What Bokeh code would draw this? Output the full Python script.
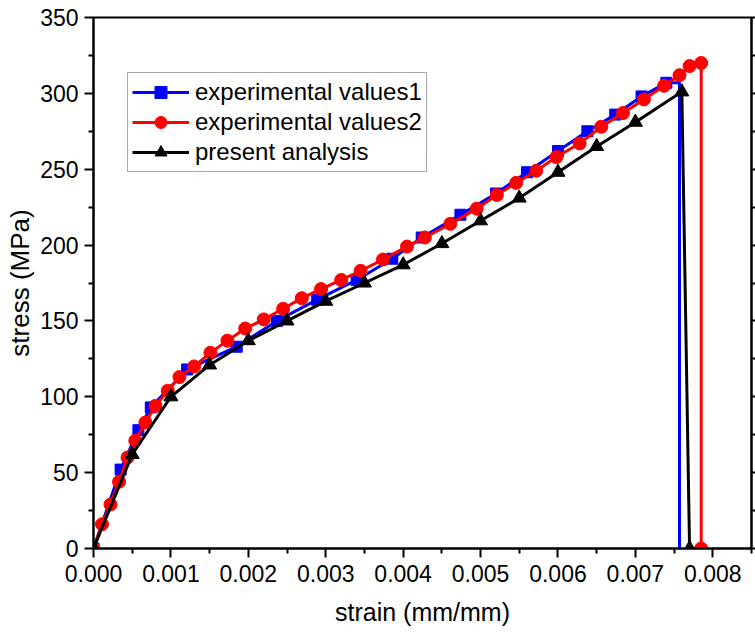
from bokeh.plotting import figure
from bokeh.models import (Range1d, FixedTicker, LinearAxis, Legend, LegendItem,
                          PrintfTickFormatter)
from bokeh.embed import file_html
from bokeh.resources import INLINE

# ---- data ----
blue_strain = [0.0, 0.00035, 0.00058, 0.00074, 0.00121, 0.00185, 0.00237, 0.00289,
               0.0034, 0.00386, 0.00424, 0.00474, 0.0052, 0.0056, 0.006, 0.00638,
               0.00674, 0.00708, 0.0074]
blue_stress = [0, 52, 78, 93, 118, 133, 150, 164, 177, 191, 205, 220, 234, 248, 262,
               275, 286, 298, 307]
blue_end_strain = [0.00757, 0.00757]
blue_end_stress = [307, 0]

red_strain = [0.0, 0.00011, 0.00022, 0.00033, 0.00044, 0.00054, 0.00067, 0.0008,
              0.00096, 0.00111, 0.0013, 0.00151, 0.00173, 0.00196, 0.0022, 0.00245,
              0.00269, 0.00294, 0.0032, 0.00345, 0.00374, 0.00405, 0.00428, 0.00461,
              0.00495, 0.00521, 0.00546, 0.00572, 0.00598, 0.00628, 0.00656, 0.00684,
              0.00711, 0.00737, 0.00757, 0.0077, 0.00785, 0.00785]
red_stress = [0, 16, 29, 44, 60, 71, 83, 94, 104, 113, 120, 129, 137, 145, 151, 158,
              165, 171, 177, 183, 190.5, 199, 205, 214, 224, 233, 241, 249, 258, 267,
              278, 287, 296, 305, 312, 318, 320, 0]

black_strain = [0.0, 0.0005, 0.001, 0.0015, 0.002, 0.0025, 0.003, 0.0035, 0.004,
                0.0045, 0.005, 0.0055, 0.006, 0.0065, 0.007, 0.0076, 0.0077]
black_stress = [0, 62, 100, 121, 137, 150, 163, 175, 187, 201, 216, 231, 248, 265,
                281, 301, 0]

x_ticks = [0.0, 0.001, 0.002, 0.003, 0.004, 0.005, 0.006, 0.007, 0.008]
x_minor = [0.0005, 0.0015, 0.0025, 0.0035, 0.0045, 0.0055, 0.0065, 0.0075, 0.0085]
y_ticks = [0, 50, 100, 150, 200, 250, 300, 350]
y_minor = [25, 75, 125, 175, 225, 275, 325]

series_names = ["experimental values1", "experimental values2", "present analysis"]

FONT = "Liberation Sans"

p = figure(width=755, height=632, output_backend="svg", toolbar_location=None,
           x_range=Range1d(0, 0.0085), y_range=Range1d(0, 350),
           x_axis_label="strain (mm/mm)", y_axis_label="stress (MPa)")
p.min_border_left = 93
p.min_border_right = 0
p.min_border_top = 17
p.min_border_bottom = 84
p.background_fill_color = "white"
p.border_fill_color = "white"
p.outline_line_color = "black"
p.outline_line_width = 2
p.grid.visible = False

for ax in (p.xaxis[0], p.yaxis[0]):
    ax.axis_line_width = 2
    ax.major_tick_line_width = 2
    ax.minor_tick_line_width = 2
    ax.major_tick_out = 9
    ax.major_tick_in = 0
    ax.minor_tick_out = 5
    ax.minor_tick_in = 0
    ax.major_label_text_font = FONT
    ax.major_label_text_font_size = "23px"
    ax.major_label_text_color = "black"
    ax.axis_label_text_font = FONT
    ax.axis_label_text_font_style = "normal"
    ax.axis_label_text_color = "black"

p.xaxis[0].ticker = FixedTicker(ticks=x_ticks, minor_ticks=x_minor)
p.xaxis[0].formatter = PrintfTickFormatter(format="%.3f")
p.xaxis[0].major_label_standoff = 7
p.xaxis[0].axis_label_standoff = 13
p.xaxis[0].axis_label_text_font_size = "25px"
p.yaxis[0].ticker = FixedTicker(ticks=y_ticks, minor_ticks=y_minor)
p.yaxis[0].major_label_standoff = 6
p.yaxis[0].axis_label_standoff = 2
p.yaxis[0].axis_label_text_font_size = "26px"

right = LinearAxis(ticker=FixedTicker(ticks=y_ticks, minor_ticks=y_minor))
right.major_label_text_font_size = "0px"
right.major_label_text_color = None
right.major_label_standoff = 0
right.axis_line_width = 2
right.major_tick_line_width = 2
right.minor_tick_line_width = 2
right.major_tick_out = 4
right.minor_tick_out = 4
right.major_tick_in = 0
right.minor_tick_in = 0
p.add_layout(right, "right")

LW = 3
bl = p.line(blue_strain + blue_end_strain, blue_stress + blue_end_stress,
            line_color="#0000ff", line_width=LW)
bs = p.scatter(blue_strain, blue_stress, marker="square", size=11,
               fill_color="#0000ff", line_color="#0000ff")
rl = p.line(red_strain, red_stress, line_color="#ff0000", line_width=LW)
rs = p.scatter(red_strain, red_stress, marker="circle", size=13,
               fill_color="#ff0000", line_color="#ff0000")
kl = p.line(black_strain, black_stress, line_color="black", line_width=LW)
ks = p.scatter(black_strain, black_stress, marker="triangle", size=14,
               fill_color="black", line_color="black")

legend = Legend(items=[
    LegendItem(label=series_names[0], renderers=[bl, bs]),
    LegendItem(label=series_names[1], renderers=[rl, rs]),
    LegendItem(label=series_names[2], renderers=[kl, ks]),
], location=(34, 376))
legend.label_text_font = FONT
legend.label_text_font_size = "24px"
legend.label_text_color = "black"
legend.label_height = 30
legend.glyph_height = 30
legend.glyph_width = 57
legend.label_standoff = 6
legend.spacing = 0
legend.padding = 4
legend.margin = 0
legend.border_line_color = "#555555"
legend.border_line_width = 1
legend.background_fill_alpha = 1
p.add_layout(legend, "center")

open("out.html", "w").write(file_html(p, INLINE))
